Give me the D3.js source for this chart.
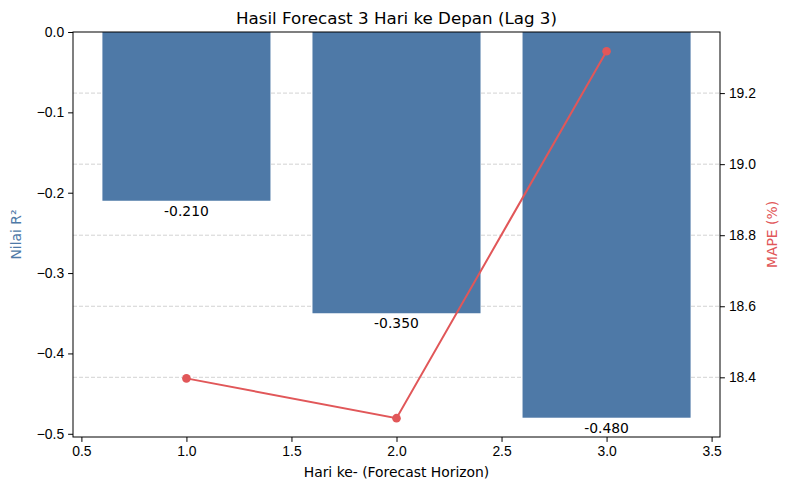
<!DOCTYPE html>
<html>
<head>
<meta charset="utf-8">
<script src="https://cdn.jsdelivr.net/npm/d3@7"></script>
<style>
  body { margin: 0; background: #fff; }
  svg { font-family: "DejaVu Sans", sans-serif; }
  .tick text { font-size: 13.9px; fill: #000; }
  .tick line { stroke: #000; }
  .domain { stroke: none; }
</style>
</head>
<body>
<div id="app"></div>
<script>
// data
const days = [1, 2, 3];
const r2 = [-0.21, -0.35, -0.48];
const mape = [18.397, 18.285, 19.318];
const xTicks = [0.5, 1.0, 1.5, 2.0, 2.5, 3.0, 3.5];
const r2Ticks = [0.0, -0.1, -0.2, -0.3, -0.4, -0.5];
const mapeTicks = [18.4, 18.6, 18.8, 19.0, 19.2];

const width = 789, height = 490;
const margin = {top: 32, right: 69, bottom: 53, left: 73};
const barColor = '#4e79a7';
const lineColor = '#e15759';

let svg = d3.select('#app').append('svg')
    .attr('width', width)
    .attr('height', height);

// scales
let x = d3.scaleLinear().domain([0.46, 3.54]).range([margin.left, width - margin.right]);
let yL = d3.scaleLinear().domain([-0.504, 0]).range([height - margin.bottom, margin.top]);
let yR = d3.scaleLinear().domain([18.232, 19.372]).range([height - margin.bottom, margin.top]);

// ticks use the real minus sign, bar labels a plain hyphen
const fmtTick = d => (d < 0 ? '\u2212' : '') + Math.abs(d).toFixed(1);
const fmtLabel = d => (d < 0 ? '-' : '') + Math.abs(d).toFixed(3);

// dashed grid on the MAPE ticks, behind the bars
svg.append('g')
    .selectAll('line')
    .data(mapeTicks)
    .join('line')
    .attr('x1', margin.left)
    .attr('x2', width - margin.right)
    .attr('y1', d => yR(d))
    .attr('y2', d => yR(d))
    .attr('stroke', '#c8c8c8')
    .attr('stroke-width', 0.8)
    .attr('stroke-dasharray', '4,2');

// bars
svg.append('g')
    .selectAll('rect')
    .data(days)
    .join('rect')
    .attr('x', d => x(d - 0.4))
    .attr('width', d => x(d + 0.4) - x(d - 0.4))
    .attr('y', yL(0))
    .attr('height', (d, i) => yL(r2[i]) - yL(0))
    .attr('fill', barColor);

// bar value labels
svg.append('g')
    .selectAll('text')
    .data(days)
    .join('text')
    .attr('x', d => x(d))
    .attr('y', (d, i) => yL(r2[i]) + 15)
    .attr('text-anchor', 'middle')
    .attr('font-size', '13.9px')
    .text((d, i) => fmtLabel(r2[i]));

// MAPE line
let pts = days.map((d, i) => [d, mape[i]]);
svg.append('path')
    .datum(pts)
    .attr('fill', 'none')
    .attr('stroke', lineColor)
    .attr('stroke-width', 2)
    .attr('d', d3.line().x(d => x(d[0])).y(d => yR(d[1])));

svg.append('g')
    .selectAll('circle')
    .data(pts)
    .join('circle')
    .attr('cx', d => x(d[0]))
    .attr('cy', d => yR(d[1]))
    .attr('r', 4.3)
    .attr('fill', lineColor);

// axes
svg.append('g')
    .attr('transform', `translate(0,${height - margin.bottom})`)
    .call(d3.axisBottom(x).tickValues(xTicks).tickFormat(fmtTick).tickSizeOuter(0).tickSize(4.9).tickPadding(4));

svg.append('g')
    .attr('transform', `translate(${margin.left},0)`)
    .call(d3.axisLeft(yL).tickValues(r2Ticks).tickFormat(fmtTick).tickSizeOuter(0).tickSize(4.9).tickPadding(4));

svg.append('g')
    .attr('transform', `translate(${width - margin.right},0)`)
    .call(d3.axisRight(yR).tickValues(mapeTicks).tickFormat(fmtTick).tickSizeOuter(0).tickSize(4.9).tickPadding(4));

// frame
svg.append('rect')
    .attr('x', margin.left)
    .attr('y', margin.top)
    .attr('width', width - margin.left - margin.right)
    .attr('height', height - margin.top - margin.bottom)
    .attr('fill', 'none')
    .attr('stroke', '#000')
    .attr('stroke-width', 1);

// titles
svg.append('text')
    .attr('x', (margin.left + width - margin.right) / 2)
    .attr('y', 24)
    .attr('text-anchor', 'middle')
    .attr('font-size', '16.7px')
    .text('Hasil Forecast 3 Hari ke Depan (Lag 3)');

svg.append('text')
    .attr('x', (margin.left + width - margin.right) / 2)
    .attr('y', 477)
    .attr('text-anchor', 'middle')
    .attr('font-size', '13.9px')
    .text('Hari ke- (Forecast Horizon)');

let midY = (margin.top + height - margin.bottom) / 2;
svg.append('text')
    .attr('transform', `translate(21,${midY}) rotate(-90)`)
    .attr('text-anchor', 'middle')
    .attr('font-size', '13.9px')
    .attr('fill', barColor)
    .text('Nilai R²');

svg.append('text')
    .attr('transform', `translate(777,${midY}) rotate(-90)`)
    .attr('text-anchor', 'middle')
    .attr('font-size', '13.9px')
    .attr('fill', lineColor)
    .text('MAPE (%)');
</script>
</body>
</html>
